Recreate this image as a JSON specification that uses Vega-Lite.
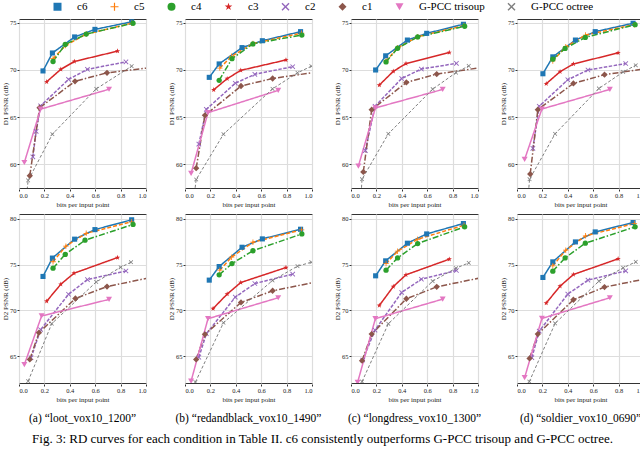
{
"$schema": "https://vega.github.io/schema/vega-lite/v6.json",
"padding": {"left": 0, "right": 2, "top": 1, "bottom": 2},
"background": "white",
"config": {
  "font": "Liberation Serif",
  "view": {"stroke": "#333333", "strokeWidth": 1},
  "axis": {"labelFont": "Liberation Serif", "titleFont": "Liberation Serif", "labelFontSize": 6.5, "titleFontSize": 7, "titleFontWeight": "normal", "labelColor": "#222222", "titleColor": "#222222", "domain": false, "tickColor": "#333333", "tickSize": 2, "gridColor": "#dddddd", "gridWidth": 1.2, "labelPadding": 1, "titlePadding": 1.5},
  "legend": {"layout": {"top": {"anchor": "middle"}}},
  "concat": {"spacing": 6}
},
"data": {"values": [
{"seq":"a","metric":"D1","series":"c6","bpp":0.189,"psnr":69.9},{"seq":"a","metric":"D1","series":"c6","bpp":0.263,"psnr":71.8},{"seq":"a","metric":"D1","series":"c6","bpp":0.438,"psnr":73.5},{"seq":"a","metric":"D1","series":"c6","bpp":0.598,"psnr":74.3},{"seq":"a","metric":"D1","series":"c6","bpp":0.887,"psnr":75.1},
{"seq":"a","metric":"D1","series":"c5","bpp":0.268,"psnr":71.2},{"seq":"a","metric":"D1","series":"c5","bpp":0.367,"psnr":72.6},{"seq":"a","metric":"D1","series":"c5","bpp":0.53,"psnr":73.8},{"seq":"a","metric":"D1","series":"c5","bpp":0.887,"psnr":74.95},
{"seq":"a","metric":"D1","series":"c4","bpp":0.268,"psnr":70.9},{"seq":"a","metric":"D1","series":"c4","bpp":0.364,"psnr":72.7},{"seq":"a","metric":"D1","series":"c4","bpp":0.529,"psnr":73.8},{"seq":"a","metric":"D1","series":"c4","bpp":0.898,"psnr":74.95},
{"seq":"a","metric":"D1","series":"c3","bpp":0.218,"psnr":68.75},{"seq":"a","metric":"D1","series":"c3","bpp":0.329,"psnr":70.07},{"seq":"a","metric":"D1","series":"c3","bpp":0.436,"psnr":70.9},{"seq":"a","metric":"D1","series":"c3","bpp":0.776,"psnr":72.0},
{"seq":"a","metric":"D1","series":"c2","bpp":0.109,"psnr":60.8},{"seq":"a","metric":"D1","series":"c2","bpp":0.135,"psnr":63.5},{"seq":"a","metric":"D1","series":"c2","bpp":0.17,"psnr":66.2},{"seq":"a","metric":"D1","series":"c2","bpp":0.39,"psnr":69.0},{"seq":"a","metric":"D1","series":"c2","bpp":0.539,"psnr":70.07},{"seq":"a","metric":"D1","series":"c2","bpp":0.842,"psnr":70.86},
{"seq":"a","metric":"D1","series":"c1","bpp":0.085,"psnr":58.8},{"seq":"a","metric":"D1","series":"c1","bpp":0.162,"psnr":66.0},{"seq":"a","metric":"D1","series":"c1","bpp":0.441,"psnr":68.8},{"seq":"a","metric":"D1","series":"c1","bpp":0.693,"psnr":69.7},{"seq":"a","metric":"D1","series":"c1","bpp":1.25,"psnr":70.6},
{"seq":"a","metric":"D1","series":"G-PCC trisoup","bpp":0.042,"psnr":60.2},{"seq":"a","metric":"D1","series":"G-PCC trisoup","bpp":0.17,"psnr":65.85},{"seq":"a","metric":"D1","series":"G-PCC trisoup","bpp":0.709,"psnr":67.96},
{"seq":"a","metric":"D1","series":"G-PCC octree","bpp":0.06,"psnr":56.8},{"seq":"a","metric":"D1","series":"G-PCC octree","bpp":0.072,"psnr":58.3},{"seq":"a","metric":"D1","series":"G-PCC octree","bpp":0.263,"psnr":63.2},{"seq":"a","metric":"D1","series":"G-PCC octree","bpp":0.608,"psnr":68.0},{"seq":"a","metric":"D1","series":"G-PCC octree","bpp":0.887,"psnr":70.4},

{"seq":"a","metric":"D2","series":"c6","bpp":0.189,"psnr":73.7},{"seq":"a","metric":"D2","series":"c6","bpp":0.263,"psnr":75.7},{"seq":"a","metric":"D2","series":"c6","bpp":0.438,"psnr":77.76},{"seq":"a","metric":"D2","series":"c6","bpp":0.598,"psnr":78.8},{"seq":"a","metric":"D2","series":"c6","bpp":0.887,"psnr":79.87},
{"seq":"a","metric":"D2","series":"c5","bpp":0.268,"psnr":75.3},{"seq":"a","metric":"D2","series":"c5","bpp":0.369,"psnr":77.0},{"seq":"a","metric":"D2","series":"c5","bpp":0.529,"psnr":78.4},{"seq":"a","metric":"D2","series":"c5","bpp":0.887,"psnr":79.65},
{"seq":"a","metric":"D2","series":"c4","bpp":0.268,"psnr":74.6},{"seq":"a","metric":"D2","series":"c4","bpp":0.364,"psnr":76.1},{"seq":"a","metric":"D2","series":"c4","bpp":0.52,"psnr":77.65},{"seq":"a","metric":"D2","series":"c4","bpp":0.898,"psnr":79.36},
{"seq":"a","metric":"D2","series":"c3","bpp":0.218,"psnr":71.0},{"seq":"a","metric":"D2","series":"c3","bpp":0.329,"psnr":72.85},{"seq":"a","metric":"D2","series":"c3","bpp":0.433,"psnr":74.05},{"seq":"a","metric":"D2","series":"c3","bpp":0.776,"psnr":75.76},
{"seq":"a","metric":"D2","series":"c2","bpp":0.095,"psnr":64.85},{"seq":"a","metric":"D2","series":"c2","bpp":0.17,"psnr":67.9},{"seq":"a","metric":"D2","series":"c2","bpp":0.39,"psnr":71.76},{"seq":"a","metric":"D2","series":"c2","bpp":0.539,"psnr":73.36},{"seq":"a","metric":"D2","series":"c2","bpp":0.842,"psnr":74.3},
{"seq":"a","metric":"D2","series":"c1","bpp":0.085,"psnr":64.67},{"seq":"a","metric":"D2","series":"c1","bpp":0.157,"psnr":67.58},{"seq":"a","metric":"D2","series":"c1","bpp":0.444,"psnr":71.3},{"seq":"a","metric":"D2","series":"c1","bpp":0.693,"psnr":72.6},{"seq":"a","metric":"D2","series":"c1","bpp":1.25,"psnr":74.2},
{"seq":"a","metric":"D2","series":"G-PCC trisoup","bpp":0.042,"psnr":64.1},{"seq":"a","metric":"D2","series":"G-PCC trisoup","bpp":0.178,"psnr":69.4},{"seq":"a","metric":"D2","series":"G-PCC trisoup","bpp":0.709,"psnr":71.2},
{"seq":"a","metric":"D2","series":"G-PCC octree","bpp":0.072,"psnr":62.3},{"seq":"a","metric":"D2","series":"G-PCC octree","bpp":0.258,"psnr":68.56},{"seq":"a","metric":"D2","series":"G-PCC octree","bpp":0.608,"psnr":73.1},{"seq":"a","metric":"D2","series":"G-PCC octree","bpp":0.8,"psnr":74.7},{"seq":"a","metric":"D2","series":"G-PCC octree","bpp":0.882,"psnr":75.25},

{"seq":"b","metric":"D1","series":"c6","bpp":0.191,"psnr":69.22},{"seq":"b","metric":"D1","series":"c6","bpp":0.269,"psnr":70.64},{"seq":"b","metric":"D1","series":"c6","bpp":0.449,"psnr":72.37},{"seq":"b","metric":"D1","series":"c6","bpp":0.609,"psnr":73.1},{"seq":"b","metric":"D1","series":"c6","bpp":0.91,"psnr":74.06},
{"seq":"b","metric":"D1","series":"c5","bpp":0.274,"psnr":70.2},{"seq":"b","metric":"D1","series":"c5","bpp":0.367,"psnr":71.45},{"seq":"b","metric":"D1","series":"c5","bpp":0.535,"psnr":72.8},{"seq":"b","metric":"D1","series":"c5","bpp":0.918,"psnr":73.9},
{"seq":"b","metric":"D1","series":"c4","bpp":0.269,"psnr":68.9},{"seq":"b","metric":"D1","series":"c4","bpp":0.37,"psnr":71.2},{"seq":"b","metric":"D1","series":"c4","bpp":0.535,"psnr":72.76},{"seq":"b","metric":"D1","series":"c4","bpp":0.92,"psnr":73.7},
{"seq":"b","metric":"D1","series":"c3","bpp":0.226,"psnr":67.9},{"seq":"b","metric":"D1","series":"c3","bpp":0.332,"psnr":69.08},{"seq":"b","metric":"D1","series":"c3","bpp":0.439,"psnr":69.96},{"seq":"b","metric":"D1","series":"c3","bpp":0.795,"psnr":71.06},
{"seq":"b","metric":"D1","series":"c2","bpp":0.109,"psnr":62.15},{"seq":"b","metric":"D1","series":"c2","bpp":0.168,"psnr":65.83},{"seq":"b","metric":"D1","series":"c2","bpp":0.396,"psnr":68.6},{"seq":"b","metric":"D1","series":"c2","bpp":0.55,"psnr":69.54},{"seq":"b","metric":"D1","series":"c2","bpp":0.848,"psnr":70.35},
{"seq":"b","metric":"D1","series":"c1","bpp":0.088,"psnr":59.6},{"seq":"b","metric":"D1","series":"c1","bpp":0.157,"psnr":65.2},{"seq":"b","metric":"D1","series":"c1","bpp":0.441,"psnr":68.3},{"seq":"b","metric":"D1","series":"c1","bpp":0.69,"psnr":69.1},{"seq":"b","metric":"D1","series":"c1","bpp":1.25,"psnr":70.2},
{"seq":"b","metric":"D1","series":"G-PCC trisoup","bpp":0.048,"psnr":59.05},{"seq":"b","metric":"D1","series":"G-PCC trisoup","bpp":0.181,"psnr":65.48},{"seq":"b","metric":"D1","series":"G-PCC trisoup","bpp":0.734,"psnr":67.84},
{"seq":"b","metric":"D1","series":"G-PCC octree","bpp":0.075,"psnr":57.0},{"seq":"b","metric":"D1","series":"G-PCC octree","bpp":0.088,"psnr":58.4},{"seq":"b","metric":"D1","series":"G-PCC octree","bpp":0.303,"psnr":63.2},{"seq":"b","metric":"D1","series":"G-PCC octree","bpp":0.689,"psnr":68.0},{"seq":"b","metric":"D1","series":"G-PCC octree","bpp":0.886,"psnr":69.7},{"seq":"b","metric":"D1","series":"G-PCC octree","bpp":0.995,"psnr":70.4},

{"seq":"b","metric":"D2","series":"c6","bpp":0.191,"psnr":73.3},{"seq":"b","metric":"D2","series":"c6","bpp":0.269,"psnr":74.78},{"seq":"b","metric":"D2","series":"c6","bpp":0.449,"psnr":76.88},{"seq":"b","metric":"D2","series":"c6","bpp":0.609,"psnr":77.79},{"seq":"b","metric":"D2","series":"c6","bpp":0.91,"psnr":78.84},
{"seq":"b","metric":"D2","series":"c5","bpp":0.274,"psnr":74.38},{"seq":"b","metric":"D2","series":"c5","bpp":0.367,"psnr":75.8},{"seq":"b","metric":"D2","series":"c5","bpp":0.535,"psnr":77.43},{"seq":"b","metric":"D2","series":"c5","bpp":0.918,"psnr":78.77},
{"seq":"b","metric":"D2","series":"c4","bpp":0.269,"psnr":73.88},{"seq":"b","metric":"D2","series":"c4","bpp":0.37,"psnr":75.1},{"seq":"b","metric":"D2","series":"c4","bpp":0.535,"psnr":76.5},{"seq":"b","metric":"D2","series":"c4","bpp":0.92,"psnr":78.33},
{"seq":"b","metric":"D2","series":"c3","bpp":0.221,"psnr":70.2},{"seq":"b","metric":"D2","series":"c3","bpp":0.332,"psnr":71.78},{"seq":"b","metric":"D2","series":"c3","bpp":0.439,"psnr":73.04},{"seq":"b","metric":"D2","series":"c3","bpp":0.795,"psnr":74.67},
{"seq":"b","metric":"D2","series":"c2","bpp":0.109,"psnr":64.9},{"seq":"b","metric":"D2","series":"c2","bpp":0.168,"psnr":67.46},{"seq":"b","metric":"D2","series":"c2","bpp":0.396,"psnr":71.45},{"seq":"b","metric":"D2","series":"c2","bpp":0.55,"psnr":72.93},{"seq":"b","metric":"D2","series":"c2","bpp":0.848,"psnr":73.95},
{"seq":"b","metric":"D2","series":"c1","bpp":0.088,"psnr":64.67},{"seq":"b","metric":"D2","series":"c1","bpp":0.157,"psnr":67.4},{"seq":"b","metric":"D2","series":"c1","bpp":0.441,"psnr":70.87},{"seq":"b","metric":"D2","series":"c1","bpp":0.69,"psnr":72.14},{"seq":"b","metric":"D2","series":"c1","bpp":1.25,"psnr":73.7},
{"seq":"b","metric":"D2","series":"G-PCC trisoup","bpp":0.048,"psnr":62.3},{"seq":"b","metric":"D2","series":"G-PCC trisoup","bpp":0.181,"psnr":69.1},{"seq":"b","metric":"D2","series":"G-PCC trisoup","bpp":0.734,"psnr":71.38},
{"seq":"b","metric":"D2","series":"G-PCC octree","bpp":0.082,"psnr":62.2},{"seq":"b","metric":"D2","series":"G-PCC octree","bpp":0.303,"psnr":68.66},{"seq":"b","metric":"D2","series":"G-PCC octree","bpp":0.689,"psnr":73.26},{"seq":"b","metric":"D2","series":"G-PCC octree","bpp":0.886,"psnr":74.82},{"seq":"b","metric":"D2","series":"G-PCC octree","bpp":0.995,"psnr":75.25},

{"seq":"c","metric":"D1","series":"c6","bpp":0.194,"psnr":70.0},{"seq":"c","metric":"D1","series":"c6","bpp":0.273,"psnr":71.5},{"seq":"c","metric":"D1","series":"c6","bpp":0.444,"psnr":73.17},{"seq":"c","metric":"D1","series":"c6","bpp":0.596,"psnr":73.88},{"seq":"c","metric":"D1","series":"c6","bpp":0.885,"psnr":74.84},
{"seq":"c","metric":"D1","series":"c5","bpp":0.276,"psnr":70.96},{"seq":"c","metric":"D1","series":"c5","bpp":0.367,"psnr":72.35},{"seq":"c","metric":"D1","series":"c5","bpp":0.525,"psnr":73.52},{"seq":"c","metric":"D1","series":"c5","bpp":0.89,"psnr":74.7},
{"seq":"c","metric":"D1","series":"c4","bpp":0.276,"psnr":70.85},{"seq":"c","metric":"D1","series":"c4","bpp":0.367,"psnr":72.3},{"seq":"c","metric":"D1","series":"c4","bpp":0.525,"psnr":73.5},{"seq":"c","metric":"D1","series":"c4","bpp":0.895,"psnr":74.63},
{"seq":"c","metric":"D1","series":"c3","bpp":0.223,"psnr":68.4},{"seq":"c","metric":"D1","series":"c3","bpp":0.333,"psnr":69.86},{"seq":"c","metric":"D1","series":"c3","bpp":0.433,"psnr":70.68},{"seq":"c","metric":"D1","series":"c3","bpp":0.774,"psnr":71.85},
{"seq":"c","metric":"D1","series":"c2","bpp":0.113,"psnr":61.46},{"seq":"c","metric":"D1","series":"c2","bpp":0.189,"psnr":66.16},{"seq":"c","metric":"D1","series":"c2","bpp":0.399,"psnr":69.1},{"seq":"c","metric":"D1","series":"c2","bpp":0.554,"psnr":70.1},{"seq":"c","metric":"D1","series":"c2","bpp":0.83,"psnr":70.7},
{"seq":"c","metric":"D1","series":"c1","bpp":0.097,"psnr":59.2},{"seq":"c","metric":"D1","series":"c1","bpp":0.163,"psnr":65.8},{"seq":"c","metric":"D1","series":"c1","bpp":0.436,"psnr":68.68},{"seq":"c","metric":"D1","series":"c1","bpp":0.675,"psnr":69.57},{"seq":"c","metric":"D1","series":"c1","bpp":1.25,"psnr":70.7},
{"seq":"c","metric":"D1","series":"G-PCC trisoup","bpp":0.058,"psnr":59.82},{"seq":"c","metric":"D1","series":"G-PCC trisoup","bpp":0.192,"psnr":65.98},{"seq":"c","metric":"D1","series":"G-PCC trisoup","bpp":0.722,"psnr":67.94},
{"seq":"c","metric":"D1","series":"G-PCC octree","bpp":0.08,"psnr":57.0},{"seq":"c","metric":"D1","series":"G-PCC octree","bpp":0.087,"psnr":58.43},{"seq":"c","metric":"D1","series":"G-PCC octree","bpp":0.294,"psnr":63.24},{"seq":"c","metric":"D1","series":"G-PCC octree","bpp":0.643,"psnr":67.97},{"seq":"c","metric":"D1","series":"G-PCC octree","bpp":0.827,"psnr":69.72},{"seq":"c","metric":"D1","series":"G-PCC octree","bpp":0.927,"psnr":70.43},

{"seq":"c","metric":"D2","series":"c6","bpp":0.194,"psnr":73.77},{"seq":"c","metric":"D2","series":"c6","bpp":0.273,"psnr":75.4},{"seq":"c","metric":"D2","series":"c6","bpp":0.444,"psnr":77.32},{"seq":"c","metric":"D2","series":"c6","bpp":0.596,"psnr":78.33},{"seq":"c","metric":"D2","series":"c6","bpp":0.885,"psnr":79.46},
{"seq":"c","metric":"D2","series":"c5","bpp":0.276,"psnr":75.1},{"seq":"c","metric":"D2","series":"c5","bpp":0.367,"psnr":76.45},{"seq":"c","metric":"D2","series":"c5","bpp":0.525,"psnr":77.75},{"seq":"c","metric":"D2","series":"c5","bpp":0.89,"psnr":79.28},
{"seq":"c","metric":"D2","series":"c4","bpp":0.276,"psnr":74.38},{"seq":"c","metric":"D2","series":"c4","bpp":0.367,"psnr":75.72},{"seq":"c","metric":"D2","series":"c4","bpp":0.525,"psnr":77.28},{"seq":"c","metric":"D2","series":"c4","bpp":0.895,"psnr":79.1},
{"seq":"c","metric":"D2","series":"c3","bpp":0.223,"psnr":70.54},{"seq":"c","metric":"D2","series":"c3","bpp":0.333,"psnr":72.6},{"seq":"c","metric":"D2","series":"c3","bpp":0.433,"psnr":73.88},{"seq":"c","metric":"D2","series":"c3","bpp":0.774,"psnr":75.58},
{"seq":"c","metric":"D2","series":"c2","bpp":0.092,"psnr":64.6},{"seq":"c","metric":"D2","series":"c2","bpp":0.189,"psnr":67.86},{"seq":"c","metric":"D2","series":"c2","bpp":0.399,"psnr":71.96},{"seq":"c","metric":"D2","series":"c2","bpp":0.554,"psnr":73.4},{"seq":"c","metric":"D2","series":"c2","bpp":0.83,"psnr":74.35},
{"seq":"c","metric":"D2","series":"c1","bpp":0.087,"psnr":64.53},{"seq":"c","metric":"D2","series":"c1","bpp":0.163,"psnr":67.43},{"seq":"c","metric":"D2","series":"c1","bpp":0.436,"psnr":71.27},{"seq":"c","metric":"D2","series":"c1","bpp":0.675,"psnr":72.57},{"seq":"c","metric":"D2","series":"c1","bpp":1.25,"psnr":74.2},
{"seq":"c","metric":"D2","series":"G-PCC trisoup","bpp":0.052,"psnr":62.17},{"seq":"c","metric":"D2","series":"G-PCC trisoup","bpp":0.192,"psnr":69.1},{"seq":"c","metric":"D2","series":"G-PCC trisoup","bpp":0.722,"psnr":71.23},
{"seq":"c","metric":"D2","series":"G-PCC octree","bpp":0.087,"psnr":62.25},{"seq":"c","metric":"D2","series":"G-PCC octree","bpp":0.294,"psnr":68.55},{"seq":"c","metric":"D2","series":"G-PCC octree","bpp":0.643,"psnr":73.19},{"seq":"c","metric":"D2","series":"G-PCC octree","bpp":0.827,"psnr":74.6},{"seq":"c","metric":"D2","series":"G-PCC octree","bpp":0.927,"psnr":75.18},

{"seq":"d","metric":"D1","series":"c6","bpp":0.204,"psnr":69.6},{"seq":"d","metric":"D1","series":"c6","bpp":0.282,"psnr":71.39},{"seq":"d","metric":"D1","series":"c6","bpp":0.46,"psnr":73.17},{"seq":"d","metric":"D1","series":"c6","bpp":0.616,"psnr":74.06},{"seq":"d","metric":"D1","series":"c6","bpp":0.914,"psnr":74.95},
{"seq":"d","metric":"D1","series":"c5","bpp":0.282,"psnr":70.96},{"seq":"d","metric":"D1","series":"c5","bpp":0.384,"psnr":72.46},{"seq":"d","metric":"D1","series":"c5","bpp":0.54,"psnr":73.7},{"seq":"d","metric":"D1","series":"c5","bpp":0.924,"psnr":74.8},
{"seq":"d","metric":"D1","series":"c4","bpp":0.282,"psnr":71.14},{"seq":"d","metric":"D1","series":"c4","bpp":0.379,"psnr":72.28},{"seq":"d","metric":"D1","series":"c4","bpp":0.538,"psnr":73.45},{"seq":"d","metric":"D1","series":"c4","bpp":0.93,"psnr":74.8},
{"seq":"d","metric":"D1","series":"c3","bpp":0.23,"psnr":68.54},{"seq":"d","metric":"D1","series":"c3","bpp":0.339,"psnr":69.82},{"seq":"d","metric":"D1","series":"c3","bpp":0.444,"psnr":70.64},{"seq":"d","metric":"D1","series":"c3","bpp":0.796,"psnr":71.81},
{"seq":"d","metric":"D1","series":"c2","bpp":0.125,"psnr":61.7},{"seq":"d","metric":"D1","series":"c2","bpp":0.175,"psnr":66.16},{"seq":"d","metric":"D1","series":"c2","bpp":0.4,"psnr":68.97},{"seq":"d","metric":"D1","series":"c2","bpp":0.559,"psnr":70.0},{"seq":"d","metric":"D1","series":"c2","bpp":0.856,"psnr":70.68},
{"seq":"d","metric":"D1","series":"c1","bpp":0.104,"psnr":58.97},{"seq":"d","metric":"D1","series":"c1","bpp":0.164,"psnr":65.8},{"seq":"d","metric":"D1","series":"c1","bpp":0.444,"psnr":68.58},{"seq":"d","metric":"D1","series":"c1","bpp":0.689,"psnr":69.5},{"seq":"d","metric":"D1","series":"c1","bpp":1.25,"psnr":70.6},
{"seq":"d","metric":"D1","series":"G-PCC trisoup","bpp":0.06,"psnr":60.53},{"seq":"d","metric":"D1","series":"G-PCC trisoup","bpp":0.196,"psnr":65.87},{"seq":"d","metric":"D1","series":"G-PCC trisoup","bpp":0.731,"psnr":67.94},
{"seq":"d","metric":"D1","series":"G-PCC octree","bpp":0.09,"psnr":57.0},{"seq":"d","metric":"D1","series":"G-PCC octree","bpp":0.099,"psnr":58.43},{"seq":"d","metric":"D1","series":"G-PCC octree","bpp":0.3,"psnr":63.24},{"seq":"d","metric":"D1","series":"G-PCC octree","bpp":0.645,"psnr":68.04},{"seq":"d","metric":"D1","series":"G-PCC octree","bpp":0.836,"psnr":69.79},{"seq":"d","metric":"D1","series":"G-PCC octree","bpp":0.935,"psnr":70.5},

{"seq":"d","metric":"D2","series":"c6","bpp":0.204,"psnr":73.59},{"seq":"d","metric":"D2","series":"c6","bpp":0.282,"psnr":75.29},{"seq":"d","metric":"D2","series":"c6","bpp":0.46,"psnr":77.46},{"seq":"d","metric":"D2","series":"c6","bpp":0.616,"psnr":78.55},{"seq":"d","metric":"D2","series":"c6","bpp":0.914,"psnr":79.57},
{"seq":"d","metric":"D2","series":"c5","bpp":0.282,"psnr":74.86},{"seq":"d","metric":"D2","series":"c5","bpp":0.384,"psnr":76.56},{"seq":"d","metric":"D2","series":"c5","bpp":0.54,"psnr":78.12},{"seq":"d","metric":"D2","series":"c5","bpp":0.924,"psnr":79.46},
{"seq":"d","metric":"D2","series":"c4","bpp":0.282,"psnr":74.28},{"seq":"d","metric":"D2","series":"c4","bpp":0.379,"psnr":75.72},{"seq":"d","metric":"D2","series":"c4","bpp":0.538,"psnr":77.32},{"seq":"d","metric":"D2","series":"c4","bpp":0.93,"psnr":79.1},
{"seq":"d","metric":"D2","series":"c3","bpp":0.23,"psnr":70.8},{"seq":"d","metric":"D2","series":"c3","bpp":0.339,"psnr":72.64},{"seq":"d","metric":"D2","series":"c3","bpp":0.444,"psnr":73.91},{"seq":"d","metric":"D2","series":"c3","bpp":0.796,"psnr":75.62},
{"seq":"d","metric":"D2","series":"c2","bpp":0.117,"psnr":64.86},{"seq":"d","metric":"D2","series":"c2","bpp":0.175,"psnr":67.75},{"seq":"d","metric":"D2","series":"c2","bpp":0.4,"psnr":71.78},{"seq":"d","metric":"D2","series":"c2","bpp":0.559,"psnr":73.3},{"seq":"d","metric":"D2","series":"c2","bpp":0.856,"psnr":74.31},
{"seq":"d","metric":"D2","series":"c1","bpp":0.099,"psnr":64.78},{"seq":"d","metric":"D2","series":"c1","bpp":0.164,"psnr":67.43},{"seq":"d","metric":"D2","series":"c1","bpp":0.444,"psnr":71.16},{"seq":"d","metric":"D2","series":"c1","bpp":0.689,"psnr":72.54},{"seq":"d","metric":"D2","series":"c1","bpp":1.25,"psnr":74.1},
{"seq":"d","metric":"D2","series":"G-PCC trisoup","bpp":0.06,"psnr":62.68},{"seq":"d","metric":"D2","series":"G-PCC trisoup","bpp":0.196,"psnr":69.13},{"seq":"d","metric":"D2","series":"G-PCC trisoup","bpp":0.731,"psnr":71.38},
{"seq":"d","metric":"D2","series":"G-PCC octree","bpp":0.097,"psnr":62.25},{"seq":"d","metric":"D2","series":"G-PCC octree","bpp":0.3,"psnr":68.59},{"seq":"d","metric":"D2","series":"G-PCC octree","bpp":0.645,"psnr":73.19},{"seq":"d","metric":"D2","series":"G-PCC octree","bpp":0.836,"psnr":74.64},{"seq":"d","metric":"D2","series":"G-PCC octree","bpp":0.935,"psnr":75.29}
]},
"title": {"text": "Fig. 3: RD curves for each condition in Table II. c6 consistently outperforms G-PCC trisoup and G-PCC octree.", "orient": "bottom", "anchor": "middle", "fontSize": 13, "fontWeight": "normal", "font": "Liberation Serif", "color": "#000000", "offset": 8},
"vconcat": [
{
  "transform": [{"filter": "datum.metric === 'D1'"}],
  "facet": {"column": {"field": "seq", "type": "nominal", "header": {"title": null, "labels": false}}},
  "spacing": 19,
  "resolve": {"axis": {"y": "independent"}},
  "spec": {
    "width": 127, "height": 169,
    "encoding": {
      "x": {"field": "bpp", "type": "quantitative", "scale": {"domain": [0, 1], "nice": false}, "axis": {"values": [0, 0.2, 0.4, 0.6, 0.8, 1.0], "format": ".1f", "title": "bits per input point"}},
      "y": {"field": "psnr", "type": "quantitative", "scale": {"domain": [57.5, 75.4], "nice": false, "zero": false}, "axis": {"values": [60, 65, 70, 75], "title": "D1 PSNR (dB)"}}
    },
    "layer": [
      {"mark": {"type": "line", "clip": true},
       "encoding": {
         "stroke": {"field": "series", "type": "nominal", "scale": {"domain": ["G-PCC octree","G-PCC trisoup","c1","c2","c3","c4","c5","c6"], "range": ["#7f7f7f","#e377c2","#8c564b","#9467bd","#d62728","#2ca02c","#ff7f0e","#1f77b4"]}, "legend": null},
         "strokeDash": {"field": "series", "type": "nominal", "scale": {"domain": ["G-PCC octree","G-PCC trisoup","c1","c2","c3","c4","c5","c6"], "range": [[3,2],[1,0],[6,2,1.5,2],[3.5,1.5],[1,0],[6,2,1.5,2],[4,2],[1,0]]}, "legend": null},
         "strokeWidth": {"field": "series", "type": "nominal", "scale": {"type": "ordinal", "domain": ["G-PCC octree","G-PCC trisoup","c1","c2","c3","c4","c5","c6"], "range": [1,1.5,1.5,1.5,1.5,1.5,1.5,1.5]}, "legend": null}
       }},
      {"mark": {"type": "point", "filled": true, "clip": true, "opacity": 1},
       "encoding": {
         "color": {"field": "series", "type": "nominal", "scale": {"domain": ["c6","c5","c4","c3","c2","c1","G-PCC trisoup","G-PCC octree"], "range": ["#1f77b4","#ff7f0e","#2ca02c","#d62728","#9467bd","#8c564b","#e377c2","#7f7f7f"]},
           "legend": {"title": null, "orient": "top", "offset": 6, "direction": "horizontal", "columns": 8, "symbolSize": 64, "labelOffset": 14, "columnPadding": 21, "labelFontSize": 11, "labelFont": "Liberation Serif", "labelColor": "#000000", "symbolStrokeWidth": 0, "symbolOpacity": 1,
             "encoding": {"symbols": {"size": {"value": 64}, "shape": {"value": {"expr": "datum.value==='c6'?'M-2.6,-0.18H2.6V0.18H-2.6ZM-0.7,-0.7H0.7V0.7H-0.7Z':datum.value==='c5'?'M-2.6,-0.18H-1.6V0.18H-2.6ZM-1.2,-0.18H-0.2V0.18H-1.2ZM0.2,-0.18H1.2V0.18H0.2ZM1.6,-0.18H2.6V0.18H1.6ZM-0.12,-0.8H0.12V-0.12H0.8V0.12H0.12V0.8H-0.12V0.12H-0.8V-0.12H-0.12Z':datum.value==='c4'?'M-2.6,-0.18H-1.7V0.18H-2.6ZM-1.4,-0.18H-1.15V0.18H-1.4ZM-0.85,-0.18H0.85V0.18H-0.85ZM1.15,-0.18H1.4V0.18H1.15ZM1.7,-0.18H2.6V0.18H1.7ZM-0.7,0A0.7,0.7 0 1,1 0.7,0A0.7,0.7 0 1,1 -0.7,0Z':datum.value==='c3'?'M-2.6,-0.18H2.6V0.18H-2.6ZM0,-0.85L0.2,-0.28L0.81,-0.26L0.32,0.1L0.5,0.69L0,0.34L-0.5,0.69L-0.32,0.1L-0.81,-0.26L-0.2,-0.28Z':datum.value==='c2'?'M-2.6,-0.18H-1.6V0.18H-2.6ZM-1.2,-0.18H-0.2V0.18H-1.2ZM0.2,-0.18H1.2V0.18H0.2ZM1.6,-0.18H2.6V0.18H1.6ZM-0.7,-0.52L-0.52,-0.7L0,-0.18L0.52,-0.7L0.7,-0.52L0.18,0L0.7,0.52L0.52,0.7L0,0.18L-0.52,0.7L-0.7,0.52L-0.18,0Z':datum.value==='c1'?'M-2.6,-0.18H-1.7V0.18H-2.6ZM-1.4,-0.18H-1.15V0.18H-1.4ZM-0.85,-0.18H0.85V0.18H-0.85ZM1.15,-0.18H1.4V0.18H1.15ZM1.7,-0.18H2.6V0.18H1.7ZM0,-0.9L0.9,0L0,0.9L-0.9,0Z':datum.value==='G-PCC trisoup'?'M-2.6,-0.18H2.6V0.18H-2.6ZM-0.8,-0.6H0.8L0,0.8Z':'M-2.6,-0.12H-1.7V0.12H-2.6ZM-1.3,-0.12H-0.4V0.12H-1.3ZM0.4,-0.12H1.3V0.12H0.4ZM1.7,-0.12H2.6V0.12H1.7ZM-0.55,-0.41L-0.41,-0.55L0,-0.14L0.41,-0.55L0.55,-0.41L0.14,0L0.55,0.41L0.41,0.55L0,0.14L-0.41,0.55L-0.55,0.41L-0.14,0Z'"}}}}}},
         "shape": {"field": "series", "type": "nominal", "scale": {"domain": ["c6","c5","c4","c3","c2","c1","G-PCC trisoup","G-PCC octree"], "range": ["square","M-0.15,-1H0.15V-0.15H1V0.15H0.15V1H-0.15V0.15H-1V-0.15H-0.15Z","circle","M0,-1L0.235,-0.324L0.951,-0.309L0.38,0.124L0.588,0.809L0,0.4L-0.588,0.809L-0.38,0.124L-0.951,-0.309L-0.235,-0.324Z","M-1,-0.75L-0.75,-1L0,-0.25L0.75,-1L1,-0.75L0.25,0L1,0.75L0.75,1L0,0.25L-0.75,1L-1,0.75L-0.25,0Z","diamond","triangle-down","M-1,-0.75L-0.75,-1L0,-0.25L0.75,-1L1,-0.75L0.25,0L1,0.75L0.75,1L0,0.25L-0.75,1L-1,0.75L-0.25,0Z"]},
           "legend": {"title": null, "orient": "top", "offset": 6, "direction": "horizontal", "columns": 8, "symbolSize": 64, "labelOffset": 14, "columnPadding": 21, "labelFontSize": 11, "labelFont": "Liberation Serif", "labelColor": "#000000", "symbolStrokeWidth": 0, "symbolOpacity": 1,
             "encoding": {"symbols": {"size": {"value": 64}, "shape": {"value": {"expr": "datum.value==='c6'?'M-2.6,-0.18H2.6V0.18H-2.6ZM-0.7,-0.7H0.7V0.7H-0.7Z':datum.value==='c5'?'M-2.6,-0.18H-1.6V0.18H-2.6ZM-1.2,-0.18H-0.2V0.18H-1.2ZM0.2,-0.18H1.2V0.18H0.2ZM1.6,-0.18H2.6V0.18H1.6ZM-0.12,-0.8H0.12V-0.12H0.8V0.12H0.12V0.8H-0.12V0.12H-0.8V-0.12H-0.12Z':datum.value==='c4'?'M-2.6,-0.18H-1.7V0.18H-2.6ZM-1.4,-0.18H-1.15V0.18H-1.4ZM-0.85,-0.18H0.85V0.18H-0.85ZM1.15,-0.18H1.4V0.18H1.15ZM1.7,-0.18H2.6V0.18H1.7ZM-0.7,0A0.7,0.7 0 1,1 0.7,0A0.7,0.7 0 1,1 -0.7,0Z':datum.value==='c3'?'M-2.6,-0.18H2.6V0.18H-2.6ZM0,-0.85L0.2,-0.28L0.81,-0.26L0.32,0.1L0.5,0.69L0,0.34L-0.5,0.69L-0.32,0.1L-0.81,-0.26L-0.2,-0.28Z':datum.value==='c2'?'M-2.6,-0.18H-1.6V0.18H-2.6ZM-1.2,-0.18H-0.2V0.18H-1.2ZM0.2,-0.18H1.2V0.18H0.2ZM1.6,-0.18H2.6V0.18H1.6ZM-0.7,-0.52L-0.52,-0.7L0,-0.18L0.52,-0.7L0.7,-0.52L0.18,0L0.7,0.52L0.52,0.7L0,0.18L-0.52,0.7L-0.7,0.52L-0.18,0Z':datum.value==='c1'?'M-2.6,-0.18H-1.7V0.18H-2.6ZM-1.4,-0.18H-1.15V0.18H-1.4ZM-0.85,-0.18H0.85V0.18H-0.85ZM1.15,-0.18H1.4V0.18H1.15ZM1.7,-0.18H2.6V0.18H1.7ZM0,-0.9L0.9,0L0,0.9L-0.9,0Z':datum.value==='G-PCC trisoup'?'M-2.6,-0.18H2.6V0.18H-2.6ZM-0.8,-0.6H0.8L0,0.8Z':'M-2.6,-0.12H-1.7V0.12H-2.6ZM-1.3,-0.12H-0.4V0.12H-1.3ZM0.4,-0.12H1.3V0.12H0.4ZM1.7,-0.12H2.6V0.12H1.7ZM-0.55,-0.41L-0.41,-0.55L0,-0.14L0.41,-0.55L0.55,-0.41L0.14,0L0.55,0.41L0.41,0.55L0,0.14L-0.41,0.55L-0.55,0.41L-0.14,0Z'"}}}}}},
         "size": {"field": "series", "type": "nominal", "scale": {"type": "ordinal", "domain": ["G-PCC octree","G-PCC trisoup","c1","c2","c3","c4","c5","c6"], "range": [18,36,40,26,30,28,30,26]}, "legend": null}
       }}
    ]
  }
},
{
  "transform": [{"filter": "datum.metric === 'D2'"}],
  "facet": {"column": {"field": "seq", "type": "nominal", "header": {"title": null, "labelOrient": "bottom", "labelFont": "Liberation Serif", "labelFontSize": 11.5, "labelColor": "#000000", "labelPadding": 11,
     "labelExpr": "datum.value==='a'?'(a) “loot_vox10_1200”':datum.value==='b'?'(b) “redandblack_vox10_1490”':datum.value==='c'?'(c) “longdress_vox10_1300”':'(d) “soldier_vox10_0690”'"}}},
  "spacing": 19,
  "resolve": {"axis": {"y": "independent"}},
  "spec": {
    "width": 127, "height": 169,
    "encoding": {
      "x": {"field": "bpp", "type": "quantitative", "scale": {"domain": [0, 1], "nice": false}, "axis": {"values": [0, 0.2, 0.4, 0.6, 0.8, 1.0], "format": ".1f", "title": "bits per input point"}},
      "y": {"field": "psnr", "type": "quantitative", "scale": {"domain": [62.1, 80.5], "nice": false, "zero": false}, "axis": {"values": [65, 70, 75, 80], "title": "D2 PSNR (dB)"}}
    },
    "layer": [
      {"mark": {"type": "line", "clip": true},
       "encoding": {
         "stroke": {"field": "series", "type": "nominal", "scale": {"domain": ["G-PCC octree","G-PCC trisoup","c1","c2","c3","c4","c5","c6"], "range": ["#7f7f7f","#e377c2","#8c564b","#9467bd","#d62728","#2ca02c","#ff7f0e","#1f77b4"]}, "legend": null},
         "strokeDash": {"field": "series", "type": "nominal", "scale": {"domain": ["G-PCC octree","G-PCC trisoup","c1","c2","c3","c4","c5","c6"], "range": [[3,2],[1,0],[6,2,1.5,2],[3.5,1.5],[1,0],[6,2,1.5,2],[4,2],[1,0]]}, "legend": null},
         "strokeWidth": {"field": "series", "type": "nominal", "scale": {"type": "ordinal", "domain": ["G-PCC octree","G-PCC trisoup","c1","c2","c3","c4","c5","c6"], "range": [1,1.5,1.5,1.5,1.5,1.5,1.5,1.5]}, "legend": null}
       }},
      {"mark": {"type": "point", "filled": true, "clip": true, "opacity": 1},
       "encoding": {
         "color": {"field": "series", "type": "nominal", "scale": {"domain": ["c6","c5","c4","c3","c2","c1","G-PCC trisoup","G-PCC octree"], "range": ["#1f77b4","#ff7f0e","#2ca02c","#d62728","#9467bd","#8c564b","#e377c2","#7f7f7f"]},
           "legend": {"title": null, "orient": "top", "offset": 6, "direction": "horizontal", "columns": 8, "symbolSize": 64, "labelOffset": 14, "columnPadding": 21, "labelFontSize": 11, "labelFont": "Liberation Serif", "labelColor": "#000000", "symbolStrokeWidth": 0, "symbolOpacity": 1}},
         "shape": {"field": "series", "type": "nominal", "scale": {"domain": ["c6","c5","c4","c3","c2","c1","G-PCC trisoup","G-PCC octree"], "range": ["square","M-0.15,-1H0.15V-0.15H1V0.15H0.15V1H-0.15V0.15H-1V-0.15H-0.15Z","circle","M0,-1L0.235,-0.324L0.951,-0.309L0.38,0.124L0.588,0.809L0,0.4L-0.588,0.809L-0.38,0.124L-0.951,-0.309L-0.235,-0.324Z","M-1,-0.75L-0.75,-1L0,-0.25L0.75,-1L1,-0.75L0.25,0L1,0.75L0.75,1L0,0.25L-0.75,1L-1,0.75L-0.25,0Z","diamond","triangle-down","M-1,-0.75L-0.75,-1L0,-0.25L0.75,-1L1,-0.75L0.25,0L1,0.75L0.75,1L0,0.25L-0.75,1L-1,0.75L-0.25,0Z"]},
           "legend": {"title": null, "orient": "top", "offset": 6, "direction": "horizontal", "columns": 8, "symbolSize": 64, "labelOffset": 14, "columnPadding": 21, "labelFontSize": 11, "labelFont": "Liberation Serif", "labelColor": "#000000", "symbolStrokeWidth": 0, "symbolOpacity": 1}},
         "size": {"field": "series", "type": "nominal", "scale": {"type": "ordinal", "domain": ["G-PCC octree","G-PCC trisoup","c1","c2","c3","c4","c5","c6"], "range": [18,36,40,26,30,28,30,26]}, "legend": null}
       }}
    ]
  }
}
]
}
